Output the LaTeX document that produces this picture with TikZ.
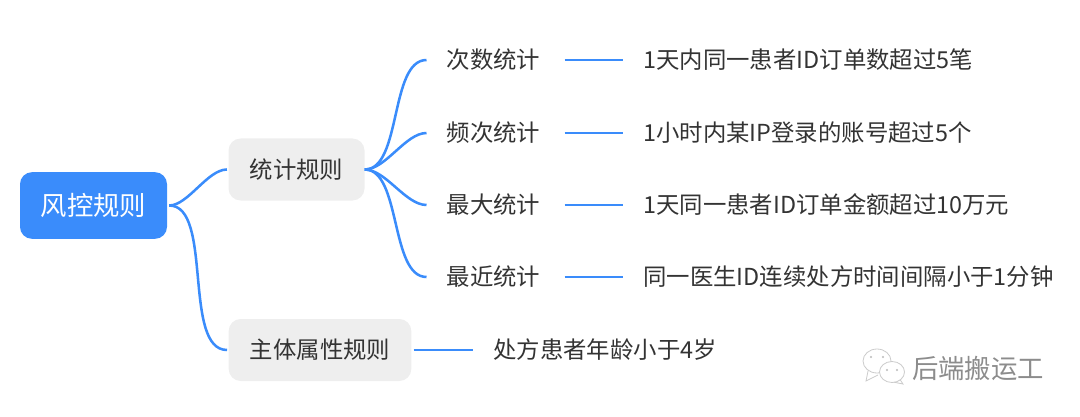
\documentclass[tikz,border=0pt]{standalone}
\usepackage{fontspec}
\setmainfont{Noto Sans CJK SC}
\definecolor{ctlblue}{HTML}{3A8CFB}
\definecolor{ctlgray}{HTML}{EEEEEE}
\definecolor{ctltext}{HTML}{333333}
\definecolor{ctlmark}{HTML}{8C8C8C}
\tikzset{
    txt/.style = {font=\fontsize{17.55pt}{20pt}\selectfont, text=ctltext, anchor=west, inner ysep=2pt},
    rootbox/.style = {rounded corners=9pt, fill=ctlblue, text=white, minimum width=110.25pt, minimum height=50pt, font=\fontsize{19.8pt}{22pt}\selectfont},
    groupbox/.style = {txt, rounded corners=9pt, fill=ctlgray, minimum height=46.5pt, inner xsep=0pt, anchor=center},
    catnode/.style = {txt, inner xsep=15pt},
    leafnode/.style = {txt, inner xsep=15pt},
    link/.style = {draw=ctlblue, line width=1.9pt},
    markline/.style = {draw=ctlmark!45, fill=white, line width=0.6pt},
}
\begin{document}
\begin{tikzpicture}[x=0.75pt, y=-0.75pt]
    \useasboundingbox (0,0) rectangle (1080,417);

    \node[rootbox] (root) at (93.5,205.5) {风控规则};
    \node[groupbox, minimum width=102pt] (stat) at (296.5,169.5) {统计规则};
    \node[groupbox, minimum width=137pt] (attr) at (320,350) {主体属性规则};

    \foreach \i/\y/\cat/\leaf in {
        1/60/次数统计/1天内同一患者ID订单数超过5笔,
        2/133/频次统计/1小时内某IP登录的账号超过5个,
        3/205/最大统计/1天同一患者ID订单金额超过10万元,
        4/277/最近统计/同一医生ID连续处方时间间隔小于1分钟}{
        \node[catnode] (c\i) at (426.5,\y) {\cat};
        \node[leafnode] (r\i) at (623,\y) {\leaf};
        \draw[link] (stat.east) to [out=0,in=180,looseness=0.75] (c\i.west);
        \draw[link, shorten <=3pt] (c\i.east) -- (r\i.west);
    }

    \node[leafnode] (r5) at (473,350) {处方患者年龄小于4岁};

    \draw[link, shorten <=1.5pt, shorten >=1pt] (root.east) to [out=0,in=180,looseness=0.75] (stat.west);
    \draw[link, shorten <=1.5pt, shorten >=1pt] (root.east) to [out=0,in=180,looseness=0.75] (attr.west);
    \draw[link, shorten <=1.5pt] (attr.east) -- (r5.west);

    % watermark
    \draw[markline] (868,371) -- (866,381) -- (878,375);
    \draw[markline] (877,361) ellipse (14 and 12);
    \draw[markline] (899,378) -- (903,384) -- (893,382);
    \draw[markline] (892,372) ellipse (12.5 and 10.5);
    \foreach \x/\y in {871/357,883/357,887/370,897/370}{
        \fill[ctlmark!60] (\x,\y) circle (1.2);
    }
    \node[font=\fontsize{19.8pt}{22pt}\selectfont, text=ctlmark, inner sep=0pt] (mark) at (978,368) {后端搬运工};
\end{tikzpicture}
\end{document}
